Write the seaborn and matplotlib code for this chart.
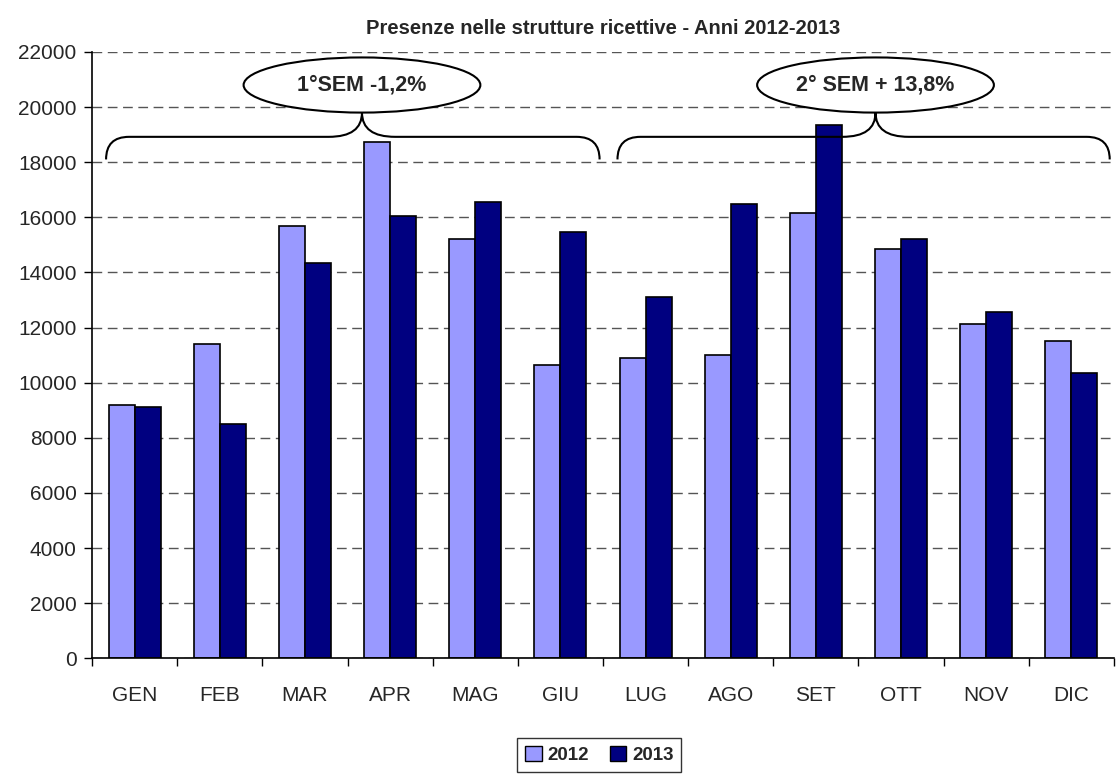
import matplotlib
matplotlib.use("Agg")
import matplotlib.pyplot as plt
from matplotlib.patches import Ellipse, PathPatch, Patch
from matplotlib.path import Path
import pandas as pd
import seaborn as sns

# Data
mesi = ["GEN", "FEB", "MAR", "APR", "MAG", "GIU",
        "LUG", "AGO", "SET", "OTT", "NOV", "DIC"]
presenze_2012 = [9180, 11400, 15680, 18750, 15230, 10660,
                 10900, 11000, 16150, 14850, 12140, 11520]
presenze_2013 = [9120, 8520, 14350, 16050, 16550, 15450,
                 13100, 16480, 19350, 15220, 12570, 10350]
anni = ["2012", "2013"]
colori = ["#9999FF", "#000080"]
semestri = ["1°SEM -1,2%", "2° SEM + 13,8%"]

df = pd.DataFrame({
    "Mese": mesi * 2,
    "Presenze": presenze_2012 + presenze_2013,
    "Anno": [anni[0]] * 12 + [anni[1]] * 12,
})

sns.set_style("white")
plt.rcParams["font.family"] = ["Liberation Sans", "DejaVu Sans"]

fig = plt.figure(figsize=(11.18, 7.81), dpi=100)
ax = fig.add_axes([0.0823, 0.157, 0.9141, 0.7765])

sns.barplot(data=df, x="Mese", y="Presenze", hue="Anno", palette=colori,
            edgecolor="black", linewidth=1.2, width=0.61, gap=0,
            saturation=1, legend=False, ax=ax)

ax.set_xlim(-0.5, 11.5)
ax.set_ylim(0, 22000)
ax.set_yticks(range(0, 22001, 2000))
ax.yaxis.grid(True, linestyle=(0, (7, 4)), color="#555555", linewidth=1)
ax.set_axisbelow(True)
ax.set_xlabel("")
ax.set_ylabel("")

for s in ["top", "right"]:
    ax.spines[s].set_visible(False)
for s in ["left", "bottom"]:
    ax.spines[s].set_color("black")
    ax.spines[s].set_linewidth(1.2)

ax.tick_params(axis="y", direction="out", length=6, width=1, color="black",
               labelsize=15, pad=5, left=True)
ax.tick_params(axis="x", which="major", length=0, labelsize=15, pad=20)
ax.set_xticks([i - 0.5 for i in range(13)], minor=True)
ax.tick_params(axis="x", which="minor", direction="out", length=6, width=1,
               color="black", bottom=True)

ax.set_title("Presenze nelle strutture ricettive - Anni 2012-2013",
             fontsize=14.5, fontweight="bold", pad=13)


def graffa(ax, x0, x1, xc, y_tip, y_mid, y_cusp, r1=0.27, r2=0.39):
    verts = [
        (x0, y_tip), (x0, y_mid), (x0 + r1, y_mid),
        (xc - r2, y_mid),
        (xc, y_mid), (xc, y_cusp),
        (xc, y_cusp), (xc, y_mid), (xc + r2, y_mid),
        (x1 - r1, y_mid),
        (x1, y_mid), (x1, y_tip),
    ]
    codes = [Path.MOVETO, Path.CURVE3, Path.CURVE3,
             Path.LINETO,
             Path.CURVE3, Path.CURVE3,
             Path.MOVETO, Path.CURVE3, Path.CURVE3,
             Path.LINETO,
             Path.CURVE3, Path.CURVE3]
    patch = PathPatch(Path(verts, codes), facecolor="none",
                      edgecolor="black", linewidth=1.5, zorder=4,
                      clip_on=False)
    ax.add_patch(patch)


graffa(ax, -0.335, 5.46, 2.67, 18100, 18920, 19800)
graffa(ax, 5.67, 11.45, 8.70, 18100, 18920, 19800)

for xc, testo in zip([2.67, 8.70], semestri):
    ax.add_patch(Ellipse((xc, 20800), 2.78, 2000, facecolor="white",
                         edgecolor="black", linewidth=1.5, zorder=5,
                         clip_on=False))
    ax.text(xc, 20800, testo, ha="center", va="center", fontsize=15.5,
            fontweight="bold", zorder=6)

handles = [Patch(facecolor=c, edgecolor="black", linewidth=1) for c in colori]
leg = fig.legend(handles, anni, loc="lower center",
                 bbox_to_anchor=(0.536, 0.0), ncol=2, frameon=True,
                 fancybox=False, edgecolor="black",
                 prop={"weight": "bold", "size": 13.5},
                 handlelength=0.9, handleheight=0.9, handletextpad=0.3,
                 columnspacing=1.1, borderpad=0.4)
leg.get_frame().set_linewidth(1)

fig.savefig("out.png", dpi=100)
